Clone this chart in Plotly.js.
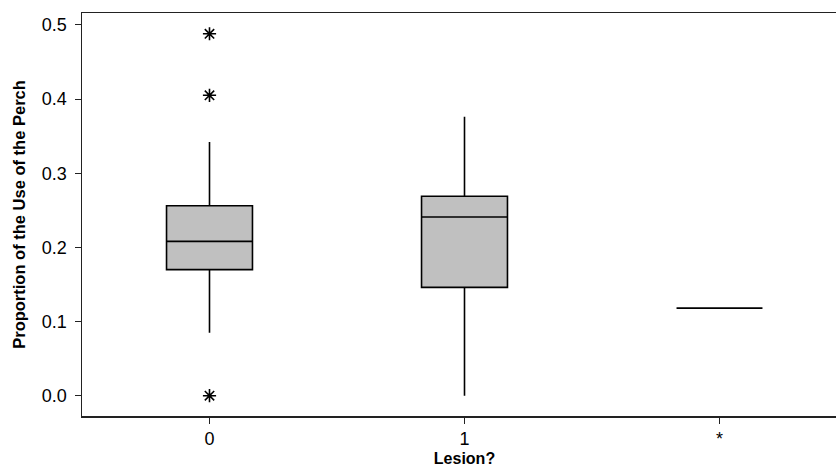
<!DOCTYPE html>
<html>
<head>
<meta charset="utf-8">
<script src="https://cdn.plot.ly/plotly-3.0.1.min.js"></script>
<style>
html, body { margin: 0; padding: 0; overflow: hidden; background: #fff; }
#chart { width: 847px; height: 467px; }
</style>
</head>
<body>
<div id="chart"></div>
<script>
// Categories and box statistics
const categories = ["0", "1", "*"];
const q1Values = [0.170, 0.146, 0.118];
const medianValues = [0.208, 0.241, 0.118];
const q3Values = [0.256, 0.269, 0.118];
const lowerFenceValues = [0.085, 0.000, 0.118];
const upperFenceValues = [0.342, 0.376, 0.118];

// Outliers (group "0")
const outlierCategories = ["0", "0", "0"];
const outlierValues = [0.488, 0.405, 0.000];

const yTickValues = [0.0, 0.1, 0.2, 0.3, 0.4, 0.5];
const yTickLabels = ["0.0", "0.1", "0.2", "0.3", "0.4", "0.5"];

const fontFamily = "Liberation Sans, Arial, sans-serif";

const boxTrace = {
  type: "box",
  x: categories,
  q1: q1Values,
  median: medianValues,
  q3: q3Values,
  lowerfence: lowerFenceValues,
  upperfence: upperFenceValues,
  boxpoints: false,
  width: 0.337,
  whiskerwidth: 0,
  fillcolor: "#c0c0c0",
  line: { color: "#000000", width: 1.6 },
  hoverinfo: "skip",
  showlegend: false
};

const outlierTrace = {
  type: "scatter",
  mode: "markers",
  x: outlierCategories,
  y: outlierValues,
  marker: {
    symbol: "asterisk-open",
    size: 11,
    color: "#000000",
    line: { color: "#000000", width: 1.6 }
  },
  hoverinfo: "skip",
  showlegend: false
};

const layout = {
  width: 847,
  height: 467,
  margin: { l: 82, r: 0, t: 13, b: 51 },
  paper_bgcolor: "#ffffff",
  plot_bgcolor: "#ffffff",
  font: { family: fontFamily, color: "#000000", size: 18 },
  showlegend: false,
  xaxis: {
    type: "category",
    categoryorder: "array",
    categoryarray: categories,
    range: [-0.5, 2.5],
    showgrid: false,
    zeroline: false,
    showline: true,
    mirror: true,
    linecolor: "#222222",
    linewidth: 1.5,
    ticks: "outside",
    ticklen: 6,
    tickwidth: 1,
    tickcolor: "#222222",
    tickfont: { family: fontFamily, size: 18, color: "#000000" },
    title: { text: "<b>Lesion?</b>", font: { family: fontFamily, size: 16, color: "#000000" }, standoff: 6 }
  },
  yaxis: {
    range: [-0.0274, 0.516],
    tickvals: yTickValues,
    ticktext: yTickLabels,
    showgrid: false,
    zeroline: false,
    showline: true,
    mirror: true,
    linecolor: "#222222",
    linewidth: 1.5,
    ticks: "outside",
    ticklen: 6,
    tickwidth: 1,
    tickcolor: "#222222",
    ticklabelstandoff: 4,
    tickfont: { family: fontFamily, size: 18, color: "#000000" },
    title: { text: "<b>Proportion of the Use of the Perch</b>", font: { family: fontFamily, size: 16.5, color: "#000000" }, standoff: 12 }
  }
};

Plotly.newPlot("chart", [boxTrace, outlierTrace], layout, { displayModeBar: false, staticPlot: true });
</script>
</body>
</html>
